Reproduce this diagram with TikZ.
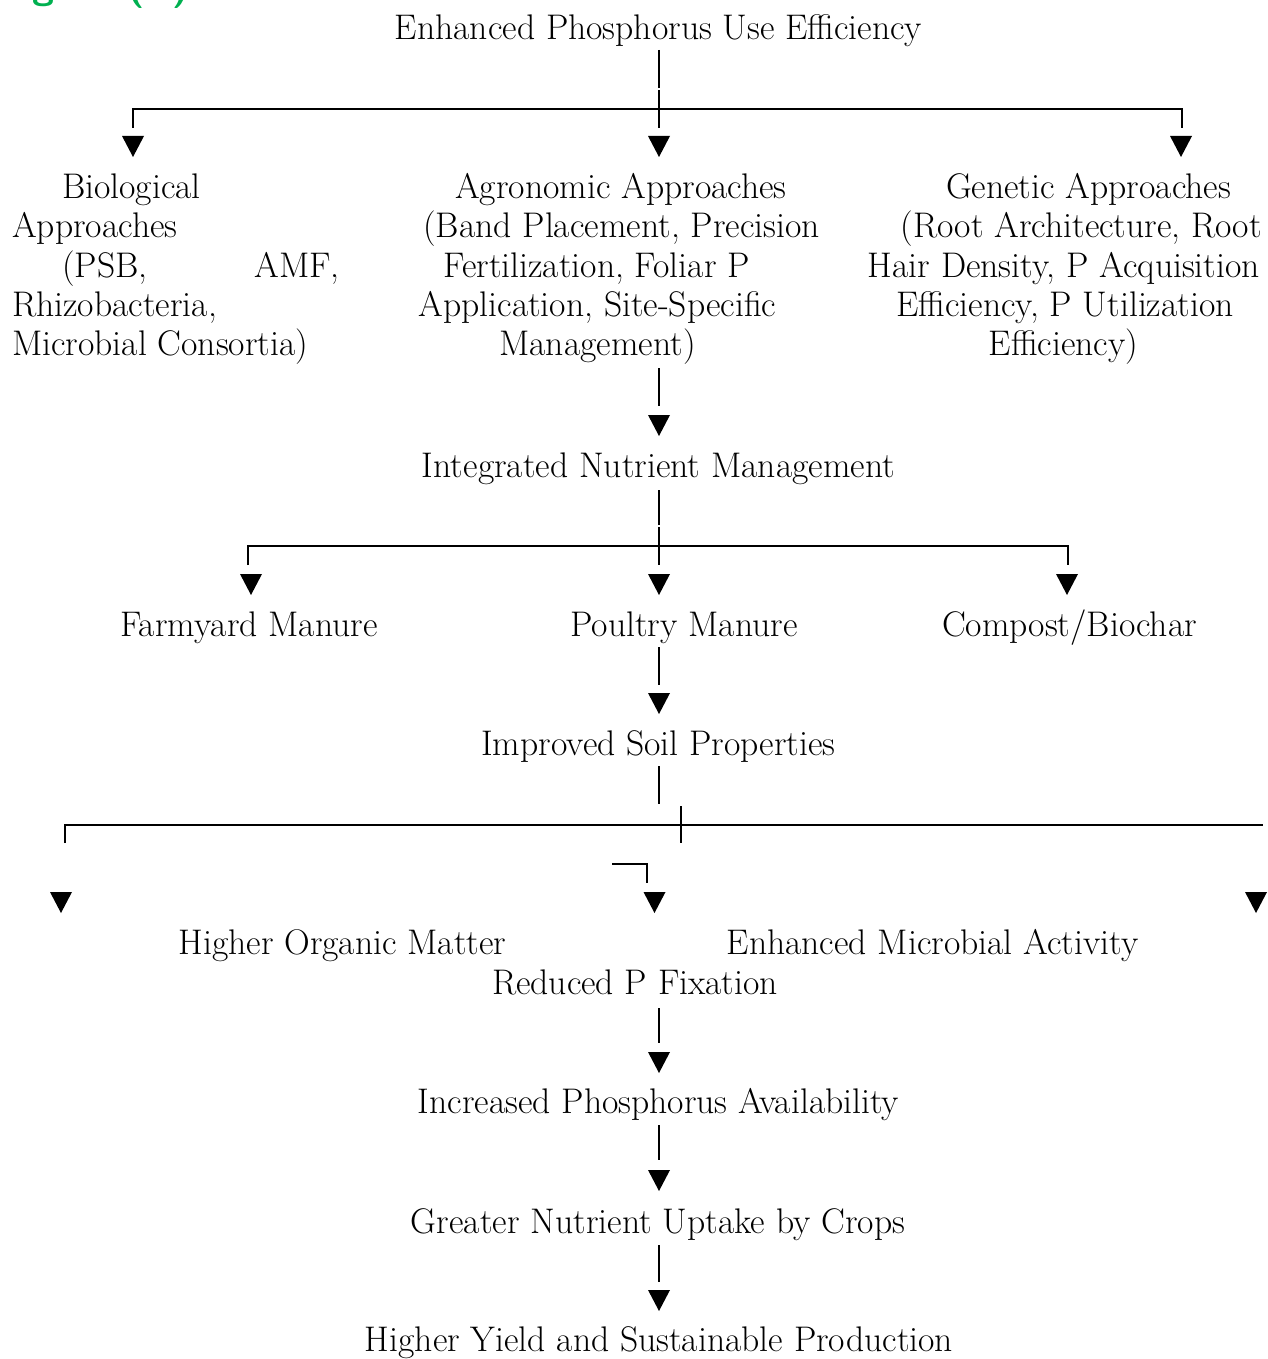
\documentclass[tikz,border=0pt]{standalone}
\definecolor{figgreen}{RGB}{0,176,80}
\begin{document}
\begin{tikzpicture}[x=1pt,y=-1pt,
  lbl/.style={inner sep=0pt, font=\fontsize{35.6}{40}\selectfont},
  conn/.style={draw=black, line width=2.2pt},
  tri/.pic={\fill[black] (-11,0) -- (11,0) -- (0,21) -- cycle;}]
\useasboundingbox (0,0) rectangle (1267,1359);
\begin{scope}
\clip (0,0) rectangle (1267,1359);
\node[inner sep=0pt, anchor=base east, text=figgreen, font=\sffamily\bfseries\fontsize{40}{44}\selectfont] (fig) at (190,-1) {Figure (C)};
\end{scope}

% level 0
\node[lbl, anchor=base] (top) at (658.5,40) {Enhanced Phosphorus Use Efficiency};
\coordinate (c0a) at (659,50);
\coordinate (c0b) at (659,88);
\coordinate (c0c) at (659,90);
\coordinate (c0d) at (659,128);
\coordinate (bl) at (133,109);
\coordinate (br) at (1182,109);
\draw[conn] (c0a) -- (c0b);
\draw[conn] (c0c) -- (c0d);
\draw[conn] (133,128) -- (bl) -- (br) -- (1182,128);
\pic (a1) at (133,136) {tri};
\pic (a2) at (659,136) {tri};
\pic (a3) at (1181,136) {tri};

% biological block
\node[lbl, anchor=base west] (bio1) at (62,198) {Biological};
\node[lbl, anchor=base west] (bio2) at (12,237.5) {Approaches};
\node[lbl, anchor=base west] (bio3) at (62,277) {(PSB,};
\node[lbl, anchor=base east] (bio3b) at (340,277) {AMF,};
\node[lbl, anchor=base west] (bio4) at (12,316) {Rhizobacteria,};
\node[lbl, anchor=base west] (bio5) at (12,355) {Microbial Consortia)};

% agronomic block
\node[lbl, anchor=base] (agr1) at (621,198) {Agronomic Approaches};
\node[lbl, anchor=base] (agr2) at (621.5,237.5) {(Band Placement, Precision};
\node[lbl, anchor=base] (agr3) at (596.5,277) {Fertilization, Foliar P};
\node[lbl, anchor=base] (agr4) at (597.5,316) {Application, Site-Specific};
\node[lbl, anchor=base] (agr5) at (597.5,355) {Management)};

% genetic block
\node[lbl, anchor=base] (gen1) at (1088.5,198) {Genetic Approaches};
\node[lbl, anchor=base east] (gen2) at (1262,237.5) {(Root Architecture, Root};
\node[lbl, anchor=base east] (gen3) at (1260,277) {Hair Density, P Acquisition};
\node[lbl, anchor=base] (gen4) at (1065,316) {Efficiency, P Utilization};
\node[lbl, anchor=base] (gen5) at (1063.5,355) {Efficiency)};

% to INM
\coordinate (c1a) at (659,368);
\coordinate (c1b) at (659,406);
\draw[conn] (c1a) -- (c1b);
\pic (a4) at (659,415) {tri};
\node[lbl, anchor=base] (inm) at (658.5,477) {Integrated Nutrient Management};

\coordinate (c2a) at (659,490);
\coordinate (c2b) at (659,525);
\coordinate (c2c) at (659,527);
\coordinate (c2d) at (659,565);
\draw[conn] (c2a) -- (c2b);
\draw[conn] (c2c) -- (c2d);
\coordinate (ml) at (248,546);
\coordinate (mr) at (1068,546);
\draw[conn] (248,565) -- (ml) -- (mr) -- (1068,565);
\pic (a5) at (251,574) {tri};
\pic (a6) at (659,574) {tri};
\pic (a7) at (1067,574) {tri};

\node[lbl, anchor=base] (fym) at (249,636) {Farmyard Manure};
\node[lbl, anchor=base] (pm) at (684,636) {Poultry Manure};
\node[lbl, anchor=base] (cb) at (1069.5,636) {Compost/Biochar};

\coordinate (c3a) at (659,647);
\coordinate (c3b) at (659,685);
\draw[conn] (c3a) -- (c3b);
\pic (a8) at (659,693) {tri};
\node[lbl, anchor=base] (isp) at (658.5,755) {Improved Soil Properties};

\coordinate (c4a) at (659,766);
\coordinate (c4b) at (659,804);
\draw[conn] (c4a) -- (c4b);
\coordinate (ll) at (65,825);
\coordinate (lr) at (1263,825);
\draw[conn] (65,843) -- (ll) -- (lr);
\coordinate (tk1) at (681,806);
\coordinate (tk2) at (681,843);
\draw[conn] (tk1) -- (tk2);
\coordinate (el1) at (612,864);
\coordinate (el2) at (647,864);
\coordinate (el3) at (647,883);
\draw[conn] (el1) -- (el2) -- (el3);
\pic (a9) at (61,892) {tri};
\pic (a10) at (654.5,892) {tri};
\pic (a11) at (1256,892) {tri};

\node[lbl, anchor=base] (hom) at (342.5,954) {Higher Organic Matter};
\node[lbl, anchor=base] (ema) at (932.5,954) {Enhanced Microbial Activity};
\node[lbl, anchor=base] (rpf) at (635,994) {Reduced P Fixation};

\coordinate (c5a) at (659,1008);
\coordinate (c5b) at (659,1043);
\draw[conn] (c5a) -- (c5b);
\pic (a12) at (659,1052) {tri};
\node[lbl, anchor=base] (ipa) at (658.5,1113) {Increased Phosphorus Availability};

\coordinate (c6a) at (659,1125);
\coordinate (c6b) at (659,1160);
\draw[conn] (c6a) -- (c6b);
\pic (a13) at (659,1170) {tri};
\node[lbl, anchor=base] (gnu) at (658,1233) {Greater Nutrient Uptake by Crops};

\coordinate (c7a) at (659,1245);
\coordinate (c7b) at (659,1282);
\draw[conn] (c7a) -- (c7b);
\pic (a14) at (659,1290) {tri};
\node[lbl, anchor=base] (hys) at (659,1351) {Higher Yield and Sustainable Production};
\end{tikzpicture}
\end{document}
